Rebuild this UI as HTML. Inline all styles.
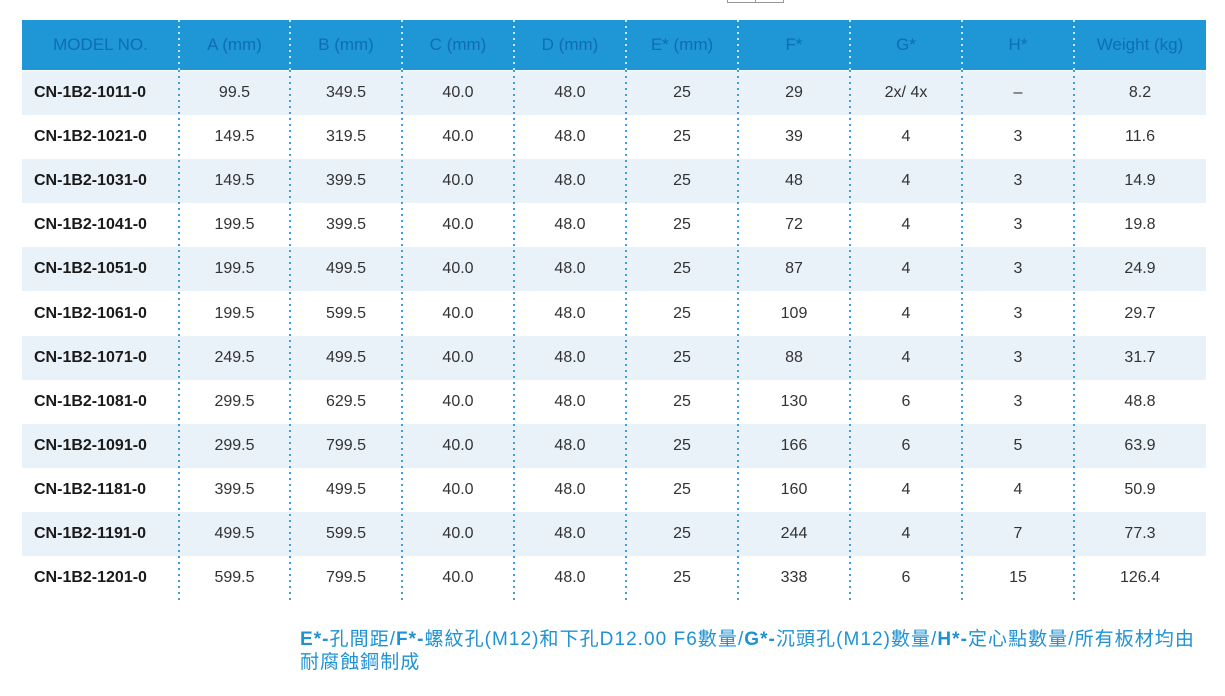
<!DOCTYPE html>
<html><head><meta charset="utf-8"><style>
body{margin:0;width:1225px;height:696px;background:#fff;position:relative;overflow:hidden;font-family:"Liberation Sans","Noto Sans CJK TC",sans-serif}
.hdr{position:absolute;left:22px;top:20px;width:1184px;height:50px;background:#1f97d7}
.row{position:absolute;left:22px;width:1184px;height:44px}
.sh{background:#e9f1f9}
.c{position:absolute;top:0;height:100%;display:flex;align-items:center;justify-content:center;font-size:16px;color:#333}
.hdr .c{color:#0f6db3;font-size:17px}
.m{font-weight:bold;color:#1a1a1a;justify-content:flex-start;padding-left:12px;box-sizing:border-box;font-size:16px}
.v{position:absolute;top:70px;height:532px;width:2px;background:repeating-linear-gradient(#3c9fd6 0 2px,transparent 2px 6px)}
.vh{position:absolute;top:20px;height:50px;width:2px;background:repeating-linear-gradient(#c8e6f8 0 2px,transparent 2px 6px)}
.note{position:absolute;left:300px;top:628px;width:920px;font-size:19px;line-height:23px;color:#1f92d2;letter-spacing:1.05px;white-space:nowrap}
.note b{font-weight:bold}
</style></head><body>
<div style="position:absolute;left:727px;top:-1px;width:27px;height:3px;border:1px solid #999;border-top:none"></div>
<div style="position:absolute;left:755px;top:-1px;width:27px;height:3px;border:1px solid #999;border-top:none"></div>
<div id="t"></div>
<div class="note"><b>E*-</b>孔間距/<b>F*-</b>螺紋孔(M12)和下孔D12.00 F6數量/<b>G*-</b>沉頭孔(M12)數量/<b>H*-</b>定心點數量/所有板材均由<br>耐腐蝕鋼制成</div>
<script>
var xs=[22,179,290,402,514,626,738,850,962,1074,1206];
var hd=["MODEL NO.","A (mm)","B (mm)","C (mm)","D (mm)","E* (mm)","F*","G*","H*","Weight (kg)"];
var d=[
["CN-1B2-1011-0","99.5","349.5","40.0","48.0","25","29","2x/ 4x","–","8.2"],
["CN-1B2-1021-0","149.5","319.5","40.0","48.0","25","39","4","3","11.6"],
["CN-1B2-1031-0","149.5","399.5","40.0","48.0","25","48","4","3","14.9"],
["CN-1B2-1041-0","199.5","399.5","40.0","48.0","25","72","4","3","19.8"],
["CN-1B2-1051-0","199.5","499.5","40.0","48.0","25","87","4","3","24.9"],
["CN-1B2-1061-0","199.5","599.5","40.0","48.0","25","109","4","3","29.7"],
["CN-1B2-1071-0","249.5","499.5","40.0","48.0","25","88","4","3","31.7"],
["CN-1B2-1081-0","299.5","629.5","40.0","48.0","25","130","6","3","48.8"],
["CN-1B2-1091-0","299.5","799.5","40.0","48.0","25","166","6","5","63.9"],
["CN-1B2-1181-0","399.5","499.5","40.0","48.0","25","160","4","4","50.9"],
["CN-1B2-1191-0","499.5","599.5","40.0","48.0","25","244","4","7","77.3"],
["CN-1B2-1201-0","599.5","799.5","40.0","48.0","25","338","6","15","126.4"]];
function cells(a,m){var s="";for(var i=0;i<10;i++){s+='<div class="c'+(m&&i==0?' m':'')+'" style="left:'+(xs[i]-22)+'px;width:'+(xs[i+1]-xs[i])+'px">'+a[i]+'</div>';}return s;}
var h='<div class="hdr">'+cells(hd,false)+'</div>';
for(var r=0;r<12;r++){h+='<div class="row'+(r%2==0?' sh':'')+'" style="top:'+(71+r*44.1)+'px">'+cells(d[r],true)+'</div>';}
for(var i=1;i<10;i++){h+='<div class="v" style="left:'+(xs[i]-1)+'px"></div><div class="vh" style="left:'+(xs[i]-1)+'px"></div>';}
document.getElementById('t').innerHTML=h;
</script>
</body></html>
